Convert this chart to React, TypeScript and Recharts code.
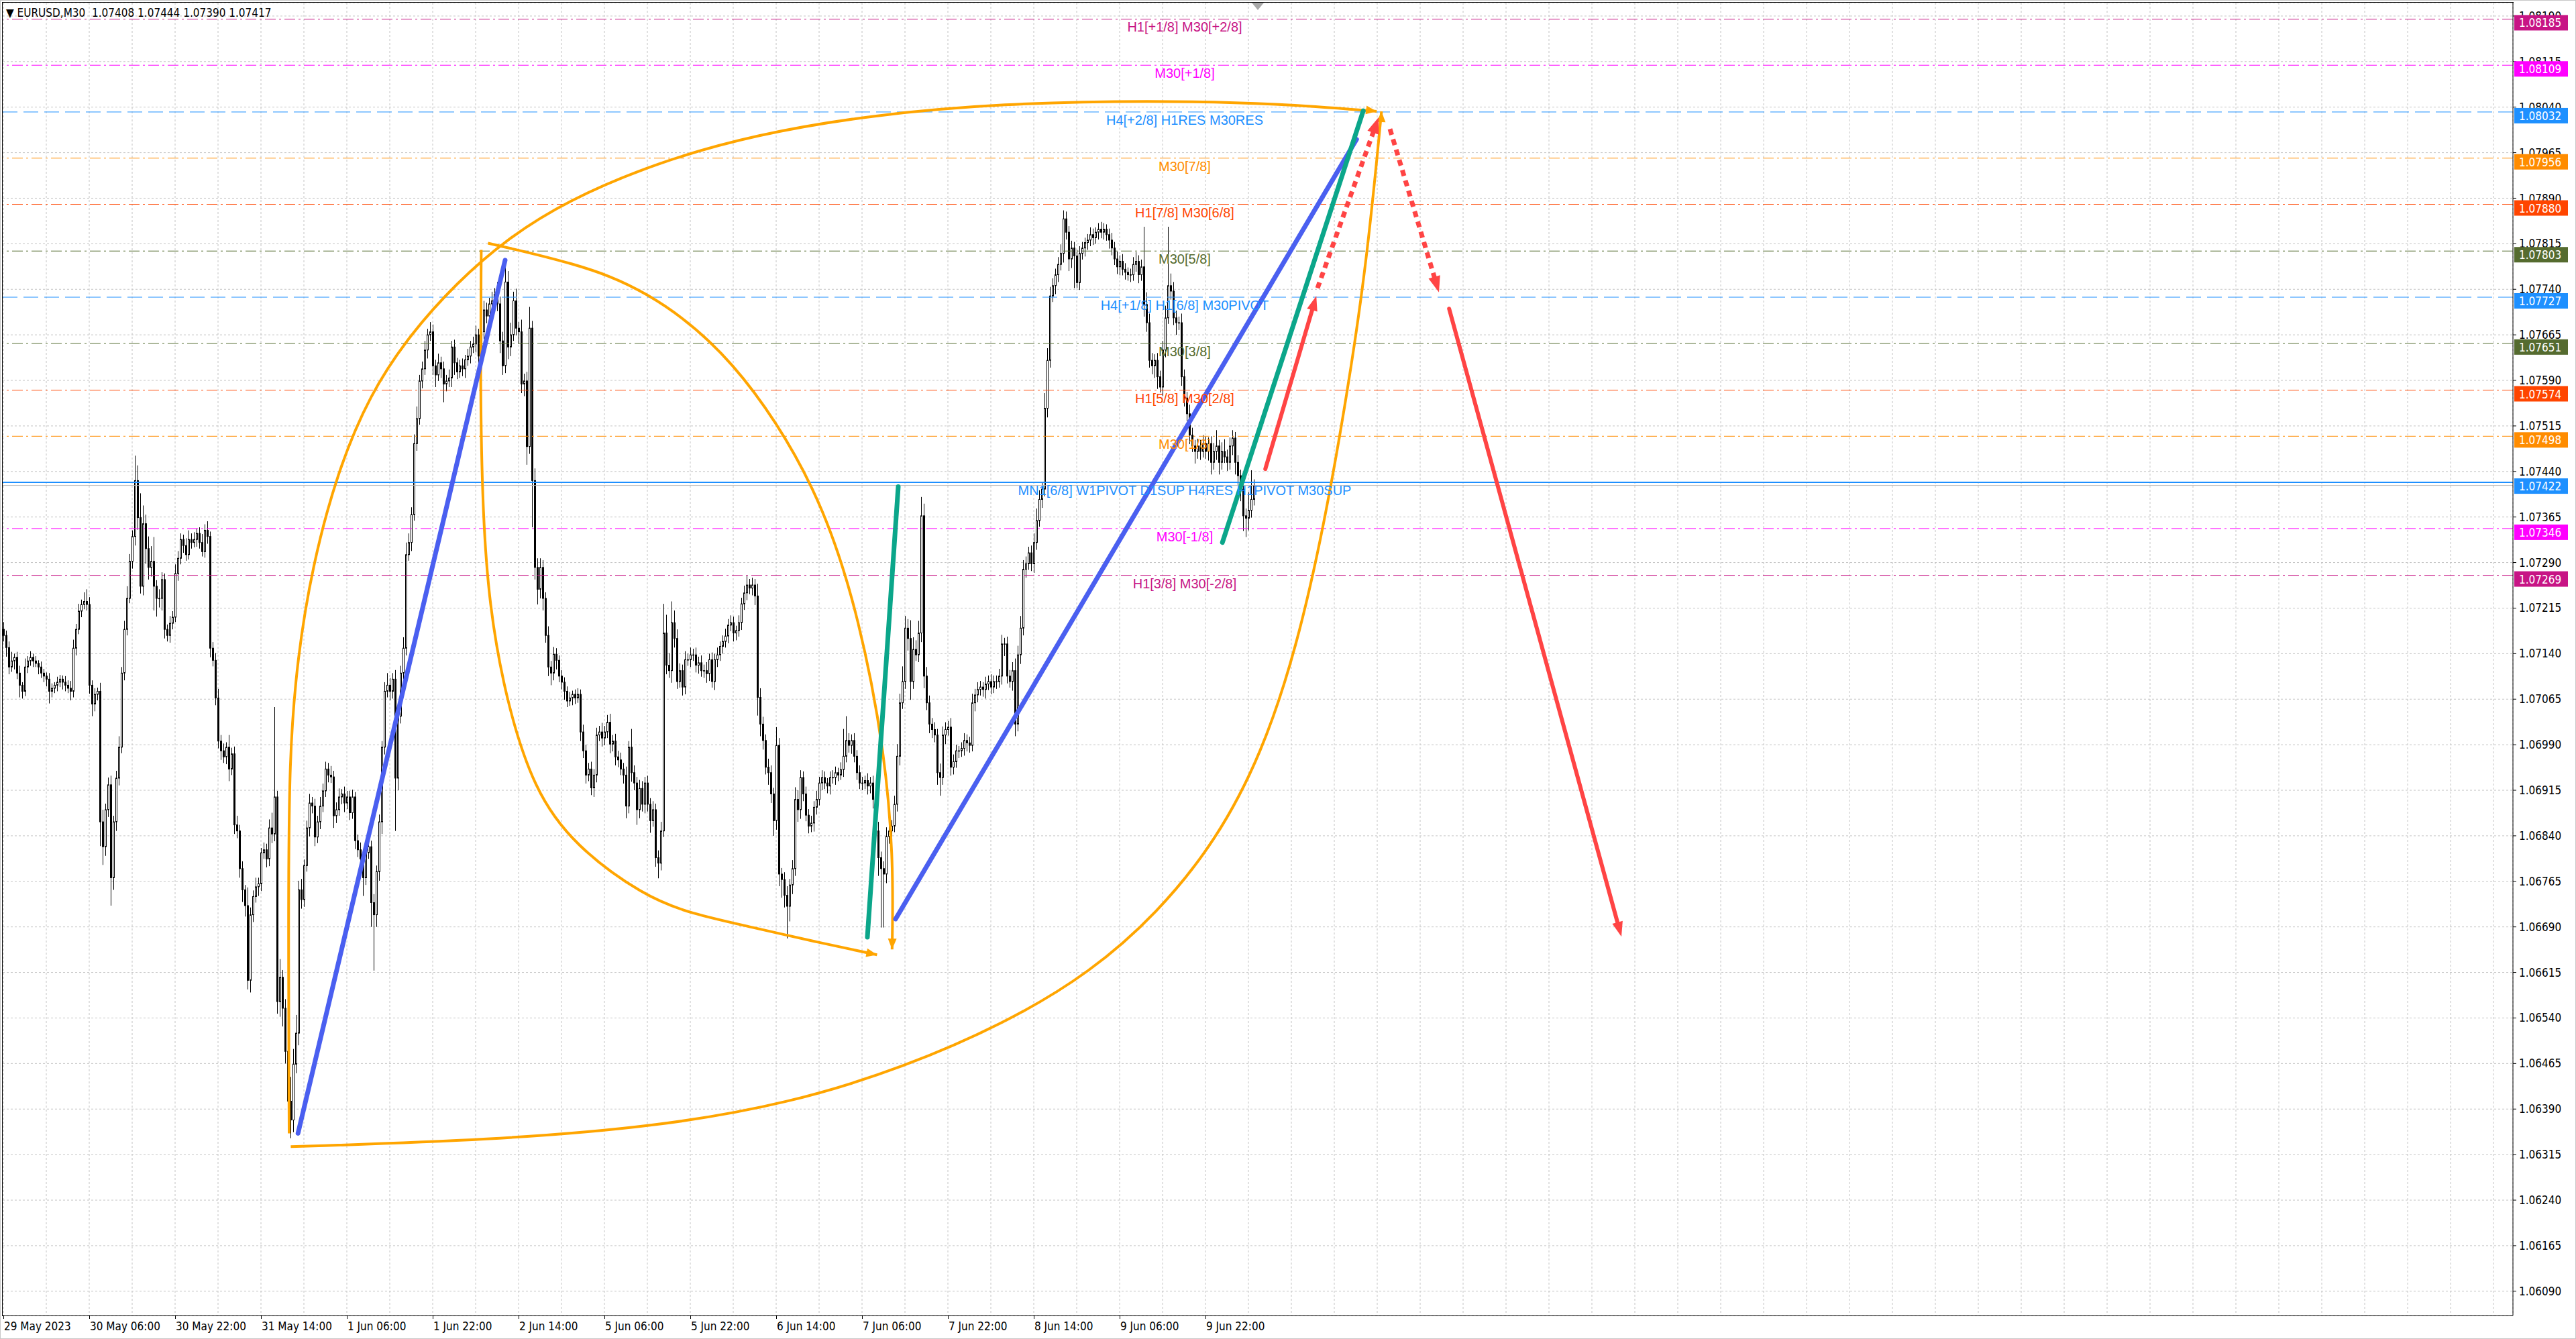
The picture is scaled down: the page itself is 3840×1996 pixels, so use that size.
import React from 'react';
import { ComposedChart, Bar, Line, XAxis, YAxis, CartesianGrid, ReferenceLine } from 'recharts';

if (typeof document !== 'undefined') document.body.style.margin = '0';

const AXIS_FONT = "'DejaVu Sans Condensed', 'DejaVu Sans', Tahoma, sans-serif";
const LABEL_FONT = "'Liberation Sans', Arial, sans-serif";

// all prices below are in points above 1.06000
const BASE = 1.06;
const PT = 100000;
const toPrice = (u: number) => +(BASE + u / PT).toFixed(5);

const headerValues = [1.07408, 1.07444, 1.0739, 1.07417];
const bidPrice = 1.07417;

const firstOpen = 1180;
const closePts = [
  1170, 1150, 1118, 1128, 1134, 1108, 1088, 1078, 1118, 1128,
  1134, 1128, 1124, 1118, 1108, 1103, 1098, 1078, 1083, 1088,
  1093, 1098, 1093, 1088, 1083, 1078, 1149, 1180, 1210, 1221,
  1226, 1221, 1088, 1057, 1073, 1078, 863, 822, 883, 924,
  771, 863, 935, 986, 1108, 1180, 1231, 1292, 1333, 1425,
  1364, 1251, 1354, 1313, 1282, 1292, 1251, 1231, 1231, 1262,
  1180, 1170, 1190, 1200, 1272, 1297, 1328, 1318, 1303, 1328,
  1323, 1328, 1338, 1323, 1308, 1343, 1333, 1149, 1129, 1067,
  996, 980, 970, 986, 950, 975, 858, 848, 786, 751,
  725, 602, 710, 740, 756, 761, 812, 817, 802, 853,
  843, 904, 567, 607, 556, 485, 403, 372, 464, 515,
  751, 735, 791, 853, 894, 889, 838, 863, 889, 914,
  950, 940, 937, 873, 883, 904, 909, 894, 904, 878,
  904, 832, 817, 802, 771, 812, 822, 730, 710, 781,
  863, 986, 1078, 1088, 1078, 1098, 935, 1037, 1108, 1149,
  1303, 1323, 1369, 1486, 1527, 1589, 1609, 1640, 1665, 1670,
  1614, 1599, 1619, 1609, 1584, 1589, 1594, 1645, 1619, 1604,
  1614, 1609, 1624, 1630, 1645, 1650, 1665, 1630, 1670, 1706,
  1696, 1716, 1721, 1732, 1716, 1655, 1614, 1752, 1645, 1665,
  1721, 1676, 1670, 1584, 1589, 1481, 1676, 1425, 1282, 1246,
  1282, 1231, 1170, 1118, 1108, 1139, 1129, 1103, 1093, 1078,
  1062, 1067, 1073, 1067, 1073, 1011, 980, 940, 950, 919,
  940, 1006, 1011, 1001, 1011, 1027, 991, 996, 970, 965,
  950, 940, 889, 986, 944, 927, 883, 918, 892, 927,
  892, 865, 883, 804, 795, 848, 1174, 1121, 1112, 1191,
  1165, 1094, 1112, 1085, 1130, 1130, 1138, 1138, 1121, 1125,
  1112, 1112, 1107, 1130, 1094, 1130, 1138, 1152, 1160, 1169,
  1187, 1191, 1174, 1178, 1191, 1222, 1240, 1253, 1248, 1253,
  1235, 1068, 1024, 997, 953, 944, 909, 865, 989, 777,
  768, 742, 724, 759, 786, 900, 883, 936, 909, 874,
  856, 861, 887, 900, 927, 936, 927, 922, 936, 936,
  944, 940, 949, 971, 997, 989, 997, 971, 944, 927,
  927, 931, 922, 927, 900, 848, 804, 786, 777, 839,
  848, 856, 892, 971, 1059, 1094, 1182, 1165, 1094, 1147,
  1138, 1174, 1367, 1103, 1059, 1024, 1015, 1006, 944, 936,
  1006, 1015, 1019, 953, 962, 980, 980, 984, 997, 993,
  989, 1059, 1072, 1081, 1085, 1081, 1090, 1094, 1085, 1094,
  1094, 1103, 1156, 1156, 1103, 1094, 1112, 1024, 1138, 1182,
  1279, 1288, 1306, 1288, 1323, 1359, 1394, 1411, 1544, 1623,
  1729, 1746, 1764, 1781, 1799, 1856, 1834, 1790, 1808, 1795,
  1751, 1799, 1808, 1817, 1821, 1830, 1825, 1834, 1839, 1834,
  1839, 1830, 1821, 1808, 1790, 1777, 1786, 1773, 1768, 1764,
  1764, 1781, 1786, 1764, 1777, 1715, 1685, 1623, 1614, 1623,
  1596, 1579, 1640, 1693, 1746, 1737, 1693, 1685, 1685, 1596,
  1561, 1535, 1500, 1482, 1473, 1482, 1473, 1486, 1473, 1486,
  1455, 1473, 1482, 1455, 1473, 1464, 1455, 1482, 1495, 1455,
  1433, 1411, 1367, 1363, 1376, 1394, 1417,
];

// upper / lower shadow length of each bar, points
const wickUp = [
  12, 8, 10, 15, 6, 9, 12, 5, 14, 8,
  10, 6, 8, 5, 9, 7, 6, 10, 8, 5,
  9, 7, 6, 10, 8, 12, 14, 9, 12, 8,
  15, 20, 12, 8, 10, 6, 14, 20, 10, 12,
  15, 10, 12, 18, 10, 14, 20, 12, 10, 41,
  25, 40, 30, 15, 20, 25, 40, 10, 15, 12,
  10, 8, 12, 10, 15, 12, 10, 8, 12, 15,
  10, 12, 8, 10, 14, 10, 15, 8, 10, 12,
  15, 10, 12, 8, 20, 10, 12, 15, 10, 12,
  8, 30, 12, 10, 15, 10, 8, 12, 10, 14,
  25, 148, 10, 30, 12, 15, 20, 40, 25, 30,
  15, 18, 10, 12, 15, 10, 12, 10, 15, 12,
  12, 10, 15, 10, 12, 14, 8, 12, 10, 10,
  12, 8, 10, 12, 10, 8, 15, 10, 14, 10,
  12, 10, 15, 20, 12, 10, 15, 10, 12, 18,
  20, 15, 12, 15, 20, 10, 12, 15, 10, 16,
  12, 10, 15, 10, 12, 10, 14, 10, 12, 8,
  10, 12, 8, 12, 10, 12, 15, 10, 12, 15,
  12, 10, 15, 10, 20, 12, 15, 36, 18, 20,
  15, 20, 10, 20, 12, 15, 35, 12, 20, 15,
  15, 12, 10, 15, 10, 12, 10, 8, 10, 8,
  8, 10, 6, 8, 10, 8, 12, 10, 10, 12,
  10, 12, 10, 15, 10, 12, 14, 10, 12, 10,
  12, 10, 14, 10, 30, 12, 10, 14, 12, 10,
  12, 10, 14, 10, 12, 15, 48, 30, 20, 35,
  20, 15, 12, 10, 14, 10, 12, 10, 12, 10,
  12, 10, 14, 10, 12, 10, 12, 8, 10, 12,
  10, 12, 10, 8, 12, 10, 12, 15, 10, 12,
  10, 20, 15, 12, 10, 14, 12, 10, 30, 12,
  10, 12, 15, 10, 14, 20, 15, 12, 10, 12,
  10, 12, 10, 14, 10, 12, 10, 8, 10, 12,
  10, 8, 12, 45, 40, 12, 10, 12, 10, 12,
  10, 8, 12, 10, 12, 14, 15, 10, 12, 15,
  12, 10, 14, 20, 15, 25, 20, 15, 30, 20,
  15, 20, 31, 20, 15, 12, 10, 12, 10, 15,
  14, 12, 10, 15, 12, 10, 8, 10, 12, 10,
  10, 15, 10, 12, 10, 8, 12, 10, 12, 10,
  10, 12, 15, 10, 12, 10, 14, 20, 15, 20,
  15, 12, 10, 12, 15, 20, 15, 12, 25, 20,
  15, 12, 10, 12, 15, 14, 12, 10, 12, 10,
  10, 12, 10, 8, 10, 12, 10, 8, 10, 12,
  10, 8, 10, 12, 10, 12, 10, 12, 10, 8,
  10, 12, 15, 10, 12, 66, 20, 15, 12, 10,
  12, 10, 15, 20, 97, 20, 15, 12, 10, 15,
  12, 10, 15, 12, 10, 12, 10, 14, 12, 10,
  12, 14, 26, 10, 15, 20, 12, 14, 13, 10,
  12, 10, 15, 12, 30, 48, 10,
];
const wickDn = [
  10, 15, 12, 8, 14, 10, 20, 12, 8, 10,
  8, 10, 6, 12, 8, 10, 12, 20, 10, 8,
  10, 8, 12, 10, 8, 15, 10, 12, 8, 10,
  8, 10, 14, 20, 12, 10, 40, 30, 15, 12,
  46, 20, 15, 12, 10, 12, 10, 8, 12, 15,
  20, 12, 15, 25, 20, 15, 40, 30, 15, 20,
  15, 10, 12, 10, 8, 12, 10, 12, 10, 8,
  10, 8, 12, 10, 8, 10, 12, 15, 10, 12,
  12, 15, 10, 12, 20, 10, 15, 12, 15, 20,
  18, 15, 20, 12, 10, 15, 12, 10, 14, 12,
  15, 12, 20, 25, 30, 20, 25, 30, 20, 15,
  20, 15, 12, 10, 14, 12, 15, 10, 12, 10,
  10, 12, 10, 20, 12, 10, 12, 15, 10, 12,
  10, 14, 12, 10, 30, 12, 10, 40, 92, 20,
  15, 20, 12, 10, 15, 12, 87, 20, 12, 10,
  12, 10, 14, 10, 12, 10, 12, 10, 14, 10,
  15, 20, 10, 15, 30, 12, 10, 15, 20, 12,
  10, 12, 15, 10, 12, 10, 14, 20, 10, 12,
  12, 10, 14, 10, 12, 20, 15, 12, 20, 15,
  10, 12, 20, 15, 20, 30, 12, 77, 20, 25,
  15, 20, 12, 15, 20, 12, 15, 10, 12, 14,
  10, 8, 12, 10, 8, 15, 12, 14, 10, 12,
  15, 12, 10, 14, 12, 10, 15, 12, 14, 12,
  10, 14, 20, 12, 15, 12, 25, 14, 12, 15,
  12, 20, 10, 15, 25, 12, 10, 15, 12, 20,
  15, 12, 10, 14, 12, 10, 12, 10, 12, 14,
  10, 12, 15, 12, 10, 14, 12, 10, 12, 10,
  12, 10, 14, 12, 10, 12, 10, 12, 10, 12,
  15, 30, 20, 15, 12, 20, 15, 25, 15, 20,
  30, 20, 53, 25, 15, 12, 20, 15, 12, 10,
  12, 10, 14, 12, 10, 12, 10, 12, 14, 10,
  12, 10, 8, 12, 10, 12, 14, 10, 12, 10,
  12, 10, 14, 12, 15, 20, 30, 97, 88, 15,
  12, 14, 10, 12, 15, 10, 12, 20, 30, 12,
  10, 12, 15, 20, 12, 15, 14, 12, 20, 30,
  12, 15, 10, 14, 12, 10, 12, 10, 12, 14,
  12, 10, 14, 12, 10, 12, 15, 10, 12, 10,
  12, 10, 14, 20, 12, 10, 15, 20, 12, 15,
  12, 14, 10, 12, 15, 12, 10, 14, 12, 15,
  12, 10, 14, 12, 10, 15, 12, 20, 15, 53,
  9, 12, 10, 14, 12, 10, 12, 10, 12, 10,
  12, 10, 14, 12, 10, 12, 14, 10, 12, 10,
  12, 10, 12, 14, 10, 20, 15, 12, 14, 20,
  20, 9, 15, 12, 10, 14, 12, 20, 12, 15,
  14, 12, 15, 10, 20, 12, 14, 10, 12, 15,
  20, 12, 14, 20, 12, 10, 14, 12, 15, 20,
  15, 20, 25, 31, 20, 12, 10,
];

// one label every 32 bars
const timeLabels = [
  '29 May 2023', '30 May 06:00', '30 May 22:00', '31 May 14:00', '1 Jun 06:00',
  '1 Jun 22:00', '2 Jun 14:00', '5 Jun 06:00', '5 Jun 22:00', '6 Jun 14:00',
  '7 Jun 06:00', '7 Jun 22:00', '8 Jun 14:00', '9 Jun 06:00', '9 Jun 22:00',
];

const priceTicks = [
  1.0609, 1.06165, 1.0624, 1.06315, 1.0639, 1.06465, 1.0654, 1.06615, 1.0669, 1.06765,
  1.0684, 1.06915, 1.0699, 1.07065, 1.0714, 1.07215, 1.0729, 1.07365, 1.0744, 1.07515,
  1.0759, 1.07665, 1.0774, 1.07815, 1.0789, 1.07965, 1.0804, 1.08115, 1.0819,
];

// Murrey levels
const levelPrices = [
  1.08185, 1.08109, 1.08032, 1.07956, 1.0788, 1.07803, 1.07727,
  1.07651, 1.07574, 1.07498, 1.07422, 1.07346, 1.07269,
];
const levelNames = [
  'H1[+1/8] M30[+2/8]', 'M30[+1/8]', 'H4[+2/8] H1RES M30RES', 'M30[7/8]',
  'H1[7/8] M30[6/8]', 'M30[5/8]', 'H4[+1/8] H1[6/8] M30PIVOT', 'M30[3/8]',
  'H1[5/8] M30[2/8]', 'M30[1/8]', 'MN1[6/8] W1PIVOT D1SUP H4RES H1PIVOT M30SUP',
  'M30[-1/8]', 'H1[3/8] M30[-2/8]',
];
const levelKinds = ['mvr', 'mag', 'h4', 'org', 'ored', 'olive', 'h4', 'olive', 'ored', 'org', 'main', 'mag', 'mvr'];

const LEVEL_STYLE: Record<string, { color: string; dash?: string; w: number }> = {
  mvr: { color: '#C71585', dash: '16 5 3 5', w: 1 },
  mag: { color: '#FF00FF', dash: '16 5 3 5', w: 1 },
  h4: { color: '#1E90FF', dash: '22 9', w: 1 },
  org: { color: '#FF8C00', dash: '16 5 3 5', w: 1 },
  ored: { color: '#FF4500', dash: '16 5 3 5', w: 1 },
  olive: { color: '#556B2F', dash: '16 5 3 5', w: 1 },
  main: { color: '#1E90FF', w: 2 },
};

// hand-drawn curves: bar index and points
const arcTopIdx = [106.5, 106.2, 106.5, 109.6, 115.1, 124.3, 136.5, 151.8, 169, 187.3, 210, 243.6, 280.4, 323.2, 372.2, 427.3, 476.3, 511.8];
const arcTopPts = [350, 702, 972, 1134, 1283, 1437, 1567, 1667, 1751, 1822, 1886, 1949, 1995, 2027, 2046, 2051, 2046, 2033];
const arcLowIdx = [107.1, 182.4, 243.7, 292.6, 335.5, 375, 405, 430, 452, 469, 482, 492.2, 500.8, 508.1, 513.6];
const arcLowPts = [328, 339, 361, 399, 458, 535, 615, 712, 832, 975, 1150, 1351, 1567, 1784, 2033];
const arcInAIdx = [178.1, 177.7, 178.6, 181, 187.1, 197.7, 213, 238.7, 255.9, 279.6, 302, 325.6];
const arcInAPts = [1805, 1581, 1375, 1221, 1067, 915, 823, 741, 712, 689, 666, 644];
const arcInBIdx = [180.6, 213, 238.7, 272, 304.2, 319.5, 328.7, 331.75, 331.2];
const arcInBPts = [1816, 1783, 1742, 1632, 1412, 1191, 972, 795, 653];
// arrow heads at the curve ends: [fromIdx, fromPts, toIdx, toPts]
const arcHeads = [
  [505, 2037, 511.8, 2033],
  [513, 1950, 513.6, 2033],
  [317, 652, 325.6, 644],
  [331.5, 720, 331.2, 653],
];

// straight tools: [fromIdx, fromPrice, toIdx, toPrice]
const blueLines = [
  [109.8, 1.0635, 187, 1.07788],
  [332.5, 1.06703, 504.3, 1.07987],
];
const greenLines = [
  [322, 1.06673, 333.5, 1.07415],
  [454.3, 1.07323, 506.8, 1.08034],
];
const redArrows = [
  [470.3, 1.07444, 489.3, 1.07729],
  [538.8, 1.07708, 603, 1.06674],
];
const redDotted = [
  [489.75, 1.07742, 512.5, 1.08023],
  [516.75, 1.08004, 535, 1.07735],
];

const candles = closePts.map((c, i) => {
  const o = i === 0 ? firstOpen : closePts[i - 1];
  const h = Math.max(o, c) + (wickUp[i] ?? 8);
  const l = Math.min(o, c) - (wickDn[i] ?? 8);
  return { i, o: toPrice(o), c: toPrice(c), h: toPrice(h), l: toPrice(l), range: [toPrice(l), toPrice(h)] };
});

const curve = (idx: number[], pts: number[]) => idx.map((i, k) => ({ i, p: toPrice(pts[k]) }));
const arcs = [
  curve(arcTopIdx, arcTopPts),
  curve(arcLowIdx, arcLowPts),
  curve(arcInAIdx, arcInAPts),
  curve(arcInBIdx, arcInBPts),
];

const xTicks = Array.from({ length: 59 }, (_, k) => k * 16);
const X_DOMAIN: [number, number] = [-0.25, 935.25];
const Y_DOMAIN: [number, number] = [1.0605, 1.08212];

function Candle(props: any) {
  const { x, y, width, height, payload } = props;
  if (x == null || !payload) return null;
  const top = Math.min(y, y + height);
  const span = Math.abs(height);
  const { o, c, h, l } = payload;
  const k = h > l ? span / (h - l) : 0;
  const py = (v: number) => top + (h - v) * k;
  const xc = Math.round(x + width / 2);
  const bTop = py(Math.max(o, c));
  const bBot = py(Math.min(o, c));
  const bull = c > o;
  return (
    <g>
      <line x1={xc + 0.5} x2={xc + 0.5} y1={top} y2={top + span} stroke="#000" strokeWidth={1} />
      <rect x={xc - 0.5} y={bTop} width={2} height={Math.max(bBot - bTop, 0.6)} fill={bull ? '#fff' : '#000'} stroke="#000" strokeWidth={1} />
    </g>
  );
}

const arrowShape = (color: string, width: number, headL: number, headW: number, dash?: string) => (props: any) => {
  const { x1, y1, x2, y2 } = props;
  const dx = x2 - x1;
  const dy = y2 - y1;
  const len = Math.hypot(dx, dy) || 1;
  const ux = dx / len;
  const uy = dy / len;
  const bx = x2 - ux * headL;
  const by = y2 - uy * headL;
  const px = (-uy * headW) / 2;
  const py = (ux * headW) / 2;
  return (
    <g>
      {width > 0 && (
        <line x1={x1} y1={y1} x2={headL > 0 ? bx + ux * 2 : x2} y2={headL > 0 ? by + uy * 2 : y2}
          stroke={color} strokeWidth={width} strokeDasharray={dash} strokeLinecap={dash ? 'butt' : 'round'} />
      )}
      {headL > 0 && <polygon points={`${x2},${y2} ${bx + px},${by + py} ${bx - px},${by - py}`} fill={color} />}
    </g>
  );
};

function LevelTag(props: any) {
  const { viewBox, name, color, value } = props;
  if (!viewBox) return null;
  const { x, y, width } = viewBox;
  return (
    <g>
      <text x={x + 1762} y={y + 19} textAnchor="middle" fill={color} fontSize={20} fontFamily={LABEL_FONT}>{name}</text>
      <rect x={x + width + 2} y={y - 6} width={80} height={23} fill={color} />
      <text x={x + width + 9} y={y + 12} fill="#fff" fontSize={17} fontFamily={AXIS_FONT}>{value.toFixed(5)}</text>
    </g>
  );
}

function TimeTick(props: any) {
  const { x, y, payload } = props;
  const v = payload?.value;
  if (v == null || v % 32 !== 0) return null;
  const label = timeLabels[v / 32];
  if (!label) return null;
  return (
    <g>
      <line x1={x + 0.5} x2={x + 0.5} y1={y} y2={y + 5} stroke="#000" />
      <text x={x + 1} y={y + 22} fontSize={17} fontFamily={AXIS_FONT} fill="#000">{label}</text>
    </g>
  );
}

export default function App() {
  return (
    <div style={{ position: 'relative', width: 3840, height: 1996, background: '#fff', overflow: 'hidden' }}>
      <ComposedChart width={3840} height={1996} data={candles} margin={{ top: 4, right: 0, bottom: 0, left: 4 }}>
        <CartesianGrid stroke="#c4c4c4" strokeDasharray="3 3" />
        <XAxis type="number" dataKey="i" domain={X_DOMAIN} ticks={xTicks} interval={0} allowDataOverflow
          tick={<TimeTick />} tickLine={false} tickSize={0} tickMargin={0} axisLine={{ stroke: '#000' }} height={35} />
        <YAxis orientation="right" type="number" domain={Y_DOMAIN} ticks={priceTicks} interval={0} allowDataOverflow
          width={94} tickSize={5} tickMargin={4} tick={{ fontSize: 17, fill: '#000', fontFamily: AXIS_FONT }}
          tickFormatter={(v: number) => v.toFixed(5)} axisLine={{ stroke: '#000' }} tickLine={{ stroke: '#000' }} />

        <ReferenceLine y={bidPrice} stroke="#b8b8b8" strokeWidth={1} />
        {levelPrices.map((lv, k) => {
          const st = LEVEL_STYLE[levelKinds[k]];
          return <ReferenceLine key={`lv${k}`} y={lv} stroke={st.color} strokeWidth={st.w} strokeDasharray={st.dash} />;
        })}

        <Bar dataKey="range" barSize={3} shape={<Candle />} isAnimationActive={false} />

        {arcs.map((d, k) => (
          <Line key={`arc${k}`} data={d} dataKey="p" type="basis" stroke="#FFA500" strokeWidth={4}
            dot={false} activeDot={false} isAnimationActive={false} />
        ))}
        {arcHeads.map((s, k) => (
          <ReferenceLine key={`ah${k}`} segment={[{ x: s[0], y: toPrice(s[1]) }, { x: s[2], y: toPrice(s[3]) }]}
            shape={arrowShape('#FFA500', 0, 16, 13)} ifOverflow="visible" />
        ))}
        {blueLines.map((s, k) => (
          <ReferenceLine key={`bl${k}`} segment={[{ x: s[0], y: s[1] }, { x: s[2], y: s[3] }]}
            shape={arrowShape('#4A5FF0', 7, 0, 0)} ifOverflow="visible" />
        ))}
        {greenLines.map((s, k) => (
          <ReferenceLine key={`gl${k}`} segment={[{ x: s[0], y: s[1] }, { x: s[2], y: s[3] }]}
            shape={arrowShape('#0BA68A', 7, 0, 0)} ifOverflow="visible" />
        ))}
        {redArrows.map((s, k) => (
          <ReferenceLine key={`ra${k}`} segment={[{ x: s[0], y: s[1] }, { x: s[2], y: s[3] }]}
            shape={arrowShape('#FF4444', 6, 22, 16)} ifOverflow="visible" />
        ))}
        {redDotted.map((s, k) => (
          <ReferenceLine key={`rd${k}`} segment={[{ x: s[0], y: s[1] }, { x: s[2], y: s[3] }]}
            shape={arrowShape('#FF4444', 7, 24, 18, '9 7')} ifOverflow="visible" />
        ))}
      </ComposedChart>

      {/* level names and price tags sit above the axis labels, as in the terminal */}
      <div style={{ position: 'absolute', left: 0, top: 0, pointerEvents: 'none' }}>
        <ComposedChart width={3840} height={1996} data={candles} margin={{ top: 4, right: 94, bottom: 35, left: 4 }}>
          <XAxis type="number" dataKey="i" domain={X_DOMAIN} hide allowDataOverflow />
          <YAxis type="number" domain={Y_DOMAIN} hide allowDataOverflow />
          {levelPrices.map((lv, k) => {
            const st = LEVEL_STYLE[levelKinds[k]];
            return (
              <ReferenceLine key={`tag${k}`} y={lv} stroke="none"
                label={<LevelTag name={levelNames[k]} color={st.color} value={lv} />} />
            );
          })}
        </ComposedChart>
      </div>

      <div style={{ position: 'absolute', left: 3, top: 3, width: 3743, height: 1958, borderLeft: '1px solid #000', borderTop: '1px solid #000', pointerEvents: 'none' }} />
      <div style={{ position: 'absolute', left: 0, top: 0, width: 3838, height: 1994, border: '1px solid #c8c8c8', pointerEvents: 'none' }} />
      <div style={{ position: 'absolute', left: 1866, top: 4, width: 0, height: 0, borderLeft: '9px solid transparent', borderRight: '9px solid transparent', borderTop: '11px solid #a8a8a8' }} />
      <div style={{ position: 'absolute', left: 9, top: 9, fontFamily: AXIS_FONT, fontSize: 17, color: '#000', whiteSpace: 'pre', lineHeight: '20px' }}>
        {`▼ EURUSD,M30  ${headerValues.map((v) => v.toFixed(5)).join(' ')}`}
      </div>
    </div>
  );
}
